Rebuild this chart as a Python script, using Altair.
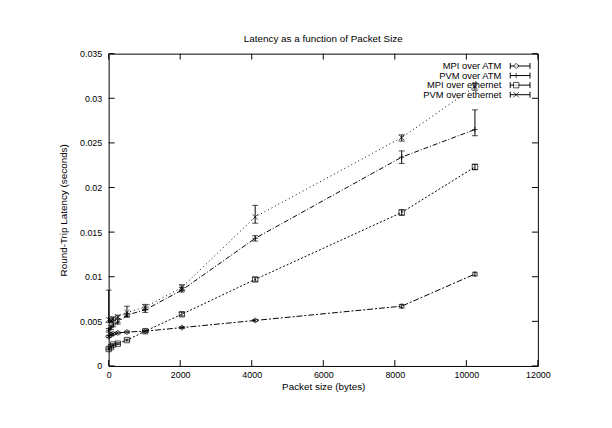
import altair as alt
import pandas as pd

# ---------------- data ----------------
sizes = [1, 64, 128, 256, 512, 1024, 2048, 4096, 8192, 10240]

series_names = ["MPI over ATM", "PVM over ATM", "MPI over ethernet", "PVM over ethernet"]

mpi_atm      = [0.0033, 0.0035, 0.0036, 0.0037, 0.0038, 0.0039, 0.0043, 0.0051, 0.0067, 0.0103]
mpi_atm_lo   = [0.0032, 0.0034, 0.0035, 0.0036, 0.0037, 0.0038, 0.0042, 0.0050, 0.0065, 0.0101]
mpi_atm_hi   = [0.0034, 0.0036, 0.0037, 0.0038, 0.0039, 0.0040, 0.0044, 0.0052, 0.0069, 0.0105]

pvm_atm      = [0.0040, 0.0043, 0.0046, 0.0049, 0.0057, 0.0063, 0.0085, 0.0143, 0.0234, 0.0265]
pvm_atm_lo   = [0.0038, 0.0041, 0.0044, 0.0047, 0.0055, 0.0060, 0.0083, 0.0140, 0.0227, 0.0258]
pvm_atm_hi   = [0.0042, 0.0045, 0.0048, 0.0052, 0.0059, 0.0066, 0.0088, 0.0146, 0.0241, 0.0287]

mpi_eth      = [0.0019, 0.0021, 0.0024, 0.0025, 0.0029, 0.0039, 0.0058, 0.0097, 0.0172, 0.0223]
mpi_eth_lo   = [0.0018, 0.0020, 0.0023, 0.0024, 0.0028, 0.0038, 0.0056, 0.0095, 0.0169, 0.0220]
mpi_eth_hi   = [0.0020, 0.0022, 0.0025, 0.0026, 0.0030, 0.0040, 0.0060, 0.0099, 0.0175, 0.0226]

pvm_eth      = [0.0052, 0.0051, 0.0053, 0.0055, 0.0060, 0.0066, 0.0088, 0.0167, 0.0256, 0.0313]
pvm_eth_lo   = [0.0049, 0.0049, 0.0051, 0.0053, 0.0055, 0.0063, 0.0085, 0.0160, 0.0252, 0.0309]
pvm_eth_hi   = [0.0085, 0.0053, 0.0055, 0.0057, 0.0067, 0.0069, 0.0091, 0.0180, 0.0259, 0.0317]

x_ticks = [0, 2000, 4000, 6000, 8000, 10000, 12000]
y_ticks = [0, 0.005, 0.01, 0.015, 0.02, 0.025, 0.03, 0.035]

# ---------------- build table ----------------
vals = [(mpi_atm, mpi_atm_lo, mpi_atm_hi), (pvm_atm, pvm_atm_lo, pvm_atm_hi),
        (mpi_eth, mpi_eth_lo, mpi_eth_hi), (pvm_eth, pvm_eth_lo, pvm_eth_hi)]
rows = []
for name, (v, lo, hi) in zip(series_names, vals):
    for s, a, b, c in zip(sizes, v, lo, hi):
        rows.append({"series": name, "x": s, "y": a, "lo": b, "hi": c})
df = pd.DataFrame(rows)

W, H = 435, 316.5
FONT = "Liberation Sans"
XT = "Packet size (bytes)"
YT = "Round-Trip Latency (seconds)"

xscale = alt.Scale(domain=[0, 12000], nice=False, zero=False)
yscale = alt.Scale(domain=[0, 0.035], nice=False, zero=False)
xaxis = alt.Axis(values=x_ticks, ticks=False, domain=False, grid=False, labelPadding=5,
                 labelFlush=False, labelOverlap=False,
                 format="d", labelFontSize=9, titleFontSize=10, titlePadding=2, titleFontWeight="normal")
yaxis = alt.Axis(values=y_ticks, ticks=False, domain=False, grid=False, labelPadding=7,
                 labelFlush=False, labelOverlap=False,
                 labelFontSize=9, titleFontSize=10, titlePadding=11, titleFontWeight="normal",
                 labelExpr="datum.value == 0 ? '0' : format(datum.value, '.3~f')")


def X(field):
    return alt.X(field, type="quantitative", scale=xscale, axis=xaxis, title=XT)


def Y(field):
    return alt.Y(field, type="quantitative", scale=yscale, axis=yaxis, title=YT)


dashes = [[6, 2, 2, 2], [5, 2, 1, 2], [2, 2], [1, 3]]
shapes = ["diamond", "M-1,0L1,0M0,-1L0,1", "square", "M-1,-1L1,1M-1,1L1,-1"]

dash_enc = alt.StrokeDash("series:N", scale=alt.Scale(domain=series_names, range=dashes), legend=None)
shape_enc = alt.Shape("series:N", scale=alt.Scale(domain=series_names, range=shapes), legend=None)

base = alt.Chart(df)

lines = base.mark_line(color="black", strokeWidth=1).encode(
    x=X("x"), y=Y("y"), strokeDash=dash_enc, detail="series:N")
points = base.mark_point(color="black", filled=False, size=30, strokeWidth=1).encode(
    x=X("x"), y=Y("y"), shape=shape_enc)
err = base.mark_rule(color="black", strokeWidth=1).encode(x=X("x"), y=Y("lo"), y2="hi")
cap_lo = base.mark_point(shape="M-1,0L1,0", size=36, color="black", filled=False, strokeWidth=1).encode(
    x=X("x"), y=Y("lo"))
cap_hi = base.mark_point(shape="M-1,0L1,0", size=36, color="black", filled=False, strokeWidth=1).encode(
    x=X("x"), y=Y("hi"))

xt = alt.Chart(pd.DataFrame({"v": x_ticks}))
yt = alt.Chart(pd.DataFrame({"v": y_ticks}))
tick_b = xt.mark_rule(color="black", strokeWidth=1).encode(x=X("v"), y=alt.value(H), y2=alt.value(H - 6))
tick_t = xt.mark_rule(color="black", strokeWidth=1).encode(x=X("v"), y=alt.value(0), y2=alt.value(6))
tick_l = yt.mark_rule(color="black", strokeWidth=1).encode(y=Y("v"), x=alt.value(0), x2=alt.value(6))
tick_r = yt.mark_rule(color="black", strokeWidth=1).encode(y=Y("v"), x=alt.value(W), x2=alt.value(W - 6))

layers = [lines, err, cap_lo, cap_hi, points, tick_b, tick_t, tick_l, tick_r]

# ---------------- legend (gnuplot style, inside top right) ----------------
for i, name in enumerate(series_names):
    yy = 12.5 + 9.7 * i
    ld = alt.Chart(pd.DataFrame({"series": [name]}))
    layers.append(ld.mark_text(align="right", baseline="middle", fontSize=9.5, font=FONT, color="black").encode(
        text="series:N", x=alt.value(398), y=alt.value(yy)))
    layers.append(ld.mark_rule(color="black", strokeWidth=1).encode(
        x=alt.value(407), x2=alt.value(427), y=alt.value(yy)))
    layers.append(ld.mark_rule(color="black", strokeWidth=1).encode(
        x=alt.value(407), y=alt.value(yy - 3), y2=alt.value(yy + 3)))
    layers.append(ld.mark_rule(color="black", strokeWidth=1).encode(
        x=alt.value(427), y=alt.value(yy - 3), y2=alt.value(yy + 3)))
    layers.append(ld.mark_point(color="black", filled=False, size=30, strokeWidth=1,
                                shape=shapes[i], fill="white").encode(
        x=alt.value(413), y=alt.value(yy)))

chart = alt.layer(*layers).properties(
    width=W, height=H,
    title=alt.TitleParams("Latency as a function of Packet Size", fontSize=10, font=FONT,
                          fontWeight="normal", offset=6, anchor="middle"),
    autosize=alt.AutoSizeParams(type="none"),
    padding={"left": 102, "top": 43.5, "right": 67, "bottom": 52},
    background="white",
).configure_view(stroke="black", strokeWidth=1).configure_axis(
    labelFont=FONT, titleFont=FONT, labelColor="black", titleColor="black"
)

chart.save("out.html", embed_options={"renderer": "svg", "actions": False})
